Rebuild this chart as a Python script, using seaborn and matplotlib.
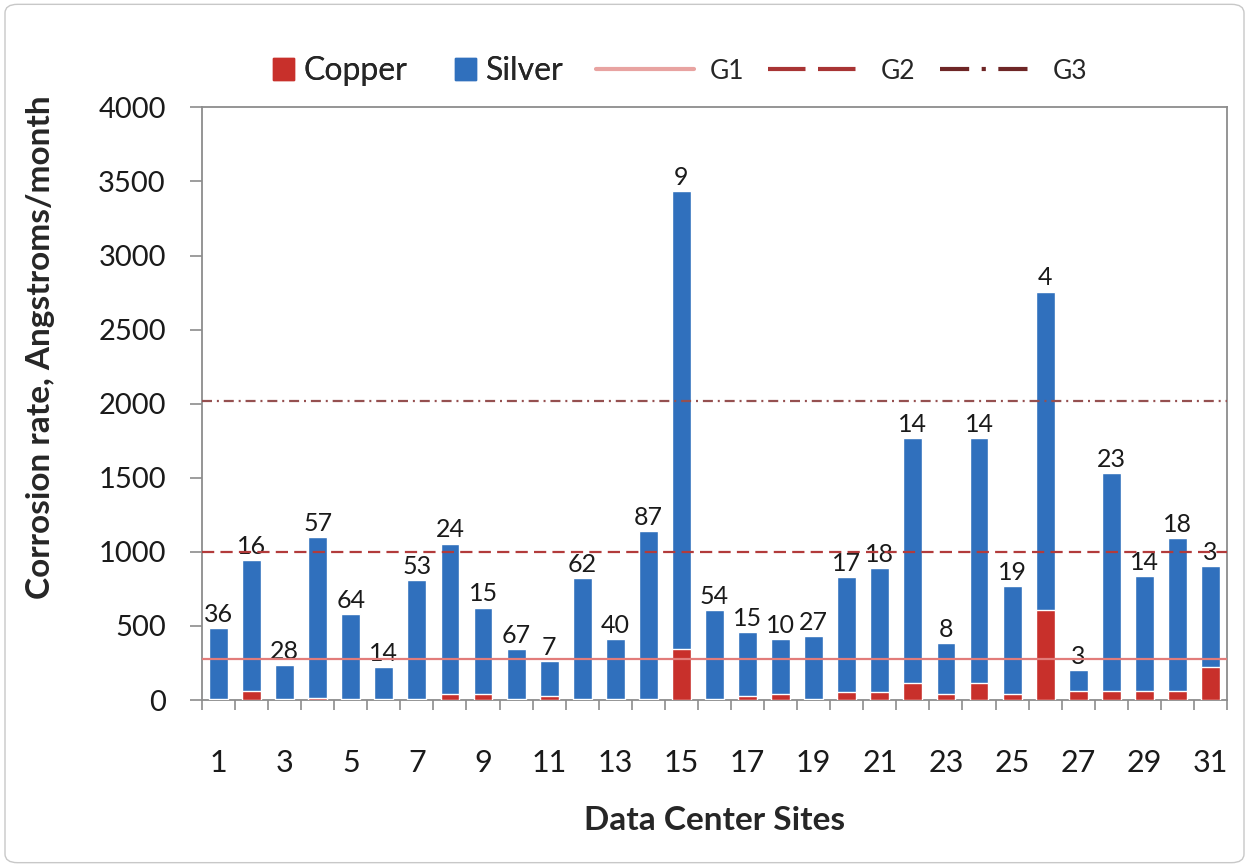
import numpy as np
import pandas as pd
import matplotlib
matplotlib.use("Agg")
import matplotlib.pyplot as plt
from matplotlib.patches import Patch, FancyBboxPatch
from matplotlib.lines import Line2D
import seaborn as sns

# Corrosion rates per data center site (Angstroms/month)
sites = [str(i) for i in range(1, 32)]
copper = [10, 59, 8, 12, 6, 8, 8, 40, 40, 6, 29, 10, 8, 8, 341, 6,
          29, 40, 8, 52, 52, 117, 40, 117, 40, 606, 59, 59, 59, 59, 226]
silver = [476, 886, 227, 1091, 577, 216, 801, 1016, 584, 335, 236, 811,
          401, 1134, 3091, 600, 428, 371, 422, 780, 837, 1649, 347, 1649,
          729, 2151, 144, 1474, 780, 1033, 680]
bar_labels = [36, 16, 28, 57, 64, 14, 53, 24, 15, 67, 7, 62, 40, 87, 9, 54,
              15, 10, 27, 17, 18, 14, 8, 14, 19, 4, 3, 23, 14, 18, 3]

# Guideline levels
g_names = ["G1", "G2", "G3"]
g_levels = [275, 1000, 2015]

yticks = [0, 500, 1000, 1500, 2000, 2500, 3000, 3500, 4000]

df = pd.DataFrame({"site": sites, "copper": copper, "silver": silver})
df["total"] = df["copper"] + df["silver"]

sns.set_style("white")
plt.rcParams["font.family"] = ["Lato", "DejaVu Sans"]

blue = "#3070BD"
red = "#C8302B"
g_colors = ["#E27C7A", "#B23B3B", "#955050"]
g_legend_colors = ["#E8A3A1", "#A83434", "#6E2626"]
g_styles = ["-", (0, (5.5, 2.8)), (0, (4.5, 2.2, 0.9, 2.2))]
g_legend_styles = ["-", (0, (9, 3)), (0, (7, 3, 1, 3))]

fig = plt.figure(figsize=(12.49, 8.67), dpi=100)
ax = fig.add_axes([0.1617, 0.1926, 0.8207, 0.6836])

bar_w = 0.57
sns.barplot(data=df, x="site", y="total", color=blue, width=bar_w,
            saturation=1, order=sites, ax=ax, zorder=2)
sns.barplot(data=df, x="site", y="copper", color=red, width=bar_w,
            saturation=1, order=sites, ax=ax, zorder=3)

for lvl, col, ls in zip(g_levels, g_colors, g_styles):
    ax.axhline(lvl, color=col, linestyle=ls, lw=1.6, zorder=4)

# Count labels above each stacked bar
tops = df["total"].to_numpy()
for i, (t, lab) in enumerate(zip(tops, bar_labels)):
    ax.annotate(str(lab), (i, t), xytext=(0, 1.5), textcoords="offset points",
                ha="center", va="bottom", fontsize=18, color="#1a1a1a")

ax.set_ylim(0, 4000)
ax.set_xlim(-0.5, len(sites) - 0.5)
ax.set_yticks(yticks)
ax.set_yticklabels([str(v) for v in yticks])
ax.tick_params(axis="y", which="major", direction="out", length=9, width=1.2,
               color="#8c8c8c", pad=17, labelsize=21, labelcolor="#1a1a1a",
               left=True)

# Tick marks between categories, labels on odd-numbered sites
ax.set_xticks(np.arange(-0.5, len(sites), 1.0))
ax.set_xticklabels([])
ax.tick_params(axis="x", which="major", direction="out", length=7, width=1.2,
               color="#8c8c8c", bottom=True)
odd_pos = [i for i in range(len(sites)) if i % 2 == 0]
ax.set_xticks(odd_pos, minor=True)
ax.set_xticklabels([sites[i] for i in odd_pos], minor=True)
ax.tick_params(axis="x", which="minor", length=0, pad=35, labelsize=22,
               labelcolor="#1a1a1a")

for sp in ax.spines.values():
    sp.set_visible(True)
    sp.set_color("#8c8c8c")
    sp.set_linewidth(1.3)

ax.set_xlabel("Data Center Sites", fontsize=24, fontweight="bold")
ax.set_ylabel("Corrosion rate, Angstroms/month", fontsize=24,
              fontweight="bold")
ax.xaxis.set_label_coords(0.5, -0.178)
ax.yaxis.set_label_coords(-0.143, 0.595)

# Two legend groups: metals and guidelines
metal_handles = [Patch(facecolor=red, edgecolor=red, label="Copper"),
                 Patch(facecolor=blue, edgecolor=blue, label="Silver")]
leg1 = fig.legend(handles=metal_handles, loc="center",
                  bbox_to_anchor=(0.335, 0.918), ncol=2, frameon=False,
                  fontsize=23, handlelength=0.65, handleheight=0.65,
                  handletextpad=0.3, columnspacing=1.5)
g_handles = [Line2D([0], [0], color=c, linestyle=ls, lw=3, label=n)
             for n, c, ls in zip(g_names, g_legend_colors, g_legend_styles)]
leg2 = fig.legend(handles=g_handles, loc="center",
                  bbox_to_anchor=(0.674, 0.918), ncol=3, frameon=False,
                  fontsize=19, handlelength=3.7, handletextpad=0.6,
                  columnspacing=0.9)
fig.add_artist(leg1)

# Light outer frame around the chart
fig.patches.append(FancyBboxPatch((0.004, 0.005), 0.992, 0.99,
                                  boxstyle="round,pad=0,rounding_size=0.01",
                                  transform=fig.transFigure, fill=False,
                                  edgecolor="#c8c8c8", lw=1.0))

fig.savefig("out.png", dpi=100)
